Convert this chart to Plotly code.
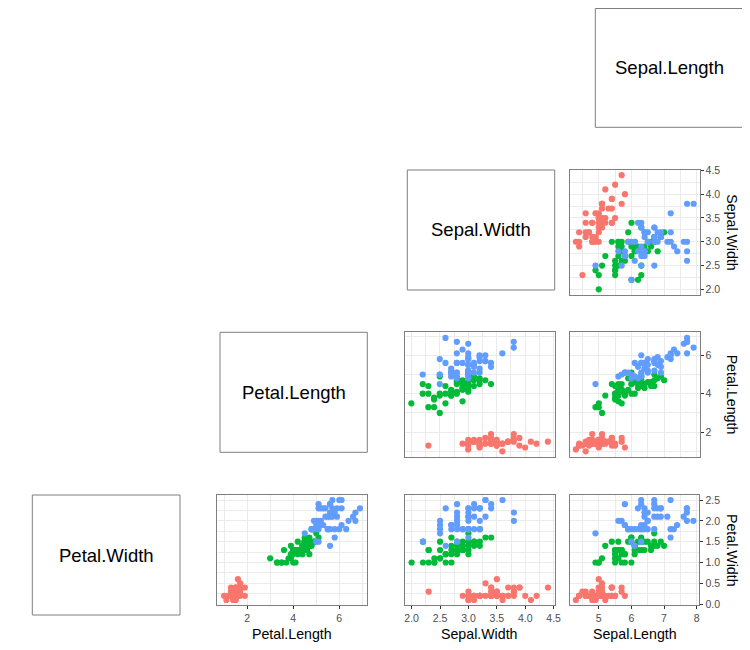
import plotly.graph_objects as go

# ---------------- data (iris) ----------------
sepal_length = [
    5.1,4.9,4.7,4.6,5.0,5.4,4.6,5.0,4.4,4.9,5.4,4.8,4.8,4.3,5.8,5.7,5.4,5.1,5.7,5.1,
    5.4,5.1,4.6,5.1,4.8,5.0,5.0,5.2,5.2,4.7,4.8,5.4,5.2,5.5,4.9,5.0,5.5,4.9,4.4,5.1,
    5.0,4.5,4.4,5.0,5.1,4.8,5.1,4.6,5.3,5.0,
    7.0,6.4,6.9,5.5,6.5,5.7,6.3,4.9,6.6,5.2,5.0,5.9,6.0,6.1,5.6,6.7,5.6,5.8,6.2,5.6,
    5.9,6.1,6.3,6.1,6.4,6.6,6.8,6.7,6.0,5.7,5.5,5.5,5.8,6.0,5.4,6.0,6.7,6.3,5.6,5.5,
    5.5,6.1,5.8,5.0,5.6,5.7,5.7,6.2,5.1,5.7,
    6.3,5.8,7.1,6.3,6.5,7.6,4.9,7.3,6.7,7.2,6.5,6.4,6.8,5.7,5.8,6.4,6.5,7.7,7.7,6.0,
    6.9,5.6,7.7,6.3,6.7,7.2,6.2,6.1,6.4,7.2,7.4,7.9,6.4,6.3,6.1,7.7,6.3,6.4,6.0,6.9,
    6.7,6.9,5.8,6.8,6.7,6.7,6.3,6.5,6.2,5.9]
sepal_width = [
    3.5,3.0,3.2,3.1,3.6,3.9,3.4,3.4,2.9,3.1,3.7,3.4,3.0,3.0,4.0,4.4,3.9,3.5,3.8,3.8,
    3.4,3.7,3.6,3.3,3.4,3.0,3.4,3.5,3.4,3.2,3.1,3.4,4.1,4.2,3.1,3.2,3.5,3.6,3.0,3.4,
    3.5,2.3,3.2,3.5,3.8,3.0,3.8,3.2,3.7,3.3,
    3.2,3.2,3.1,2.3,2.8,2.8,3.3,2.4,2.9,2.7,2.0,3.0,2.2,2.9,2.9,3.1,3.0,2.7,2.2,2.5,
    3.2,2.8,2.5,2.8,2.9,3.0,2.8,3.0,2.9,2.6,2.4,2.4,2.7,2.7,3.0,3.4,3.1,2.3,3.0,2.5,
    2.6,3.0,2.6,2.3,2.7,3.0,2.9,2.9,2.5,2.8,
    3.3,2.7,3.0,2.9,3.0,3.0,2.5,2.9,2.5,3.6,3.2,2.7,3.0,2.5,2.8,3.2,3.0,3.8,2.6,2.2,
    3.2,2.8,2.8,2.7,3.3,3.2,2.8,3.0,2.8,3.0,2.8,3.8,2.8,2.8,2.6,3.0,3.4,3.1,3.0,3.1,
    3.1,3.1,2.7,3.2,3.3,3.0,2.5,3.0,3.4,3.0]
petal_length = [
    1.4,1.4,1.3,1.5,1.4,1.7,1.4,1.5,1.4,1.5,1.5,1.6,1.4,1.1,1.2,1.5,1.3,1.4,1.7,1.5,
    1.7,1.5,1.0,1.7,1.9,1.6,1.6,1.5,1.4,1.6,1.6,1.5,1.5,1.4,1.5,1.2,1.3,1.4,1.3,1.5,
    1.3,1.3,1.3,1.6,1.9,1.4,1.6,1.4,1.5,1.4,
    4.7,4.5,4.9,4.0,4.6,4.5,4.7,3.3,4.6,3.9,3.5,4.2,4.0,4.7,3.6,4.4,4.5,4.1,4.5,3.9,
    4.8,4.0,4.9,4.7,4.3,4.4,4.8,5.0,4.5,3.5,3.8,3.7,3.9,5.1,4.5,4.5,4.7,4.4,4.1,4.0,
    4.4,4.6,4.0,3.3,4.2,4.2,4.2,4.3,3.0,4.1,
    6.0,5.1,5.9,5.6,5.8,6.6,4.5,6.3,5.8,6.1,5.1,5.3,5.5,5.0,5.1,5.3,5.5,6.7,6.9,5.0,
    5.7,4.9,6.7,4.9,5.7,6.0,4.8,4.9,5.6,5.8,6.1,6.4,5.6,5.1,5.6,6.1,5.6,5.5,4.8,5.4,
    5.6,5.1,5.1,5.9,5.7,5.2,5.0,5.2,5.4,5.1]
petal_width = [
    0.2,0.2,0.2,0.2,0.2,0.4,0.3,0.2,0.2,0.1,0.2,0.2,0.1,0.1,0.2,0.4,0.4,0.3,0.3,0.3,
    0.2,0.4,0.2,0.5,0.2,0.2,0.4,0.2,0.2,0.2,0.2,0.4,0.1,0.2,0.2,0.2,0.2,0.1,0.2,0.2,
    0.3,0.3,0.2,0.6,0.4,0.3,0.2,0.2,0.2,0.2,
    1.4,1.5,1.5,1.3,1.5,1.3,1.6,1.0,1.3,1.4,1.0,1.5,1.0,1.4,1.3,1.4,1.5,1.0,1.5,1.1,
    1.8,1.3,1.5,1.2,1.3,1.4,1.4,1.7,1.5,1.0,1.1,1.0,1.2,1.6,1.5,1.6,1.5,1.3,1.3,1.3,
    1.2,1.4,1.2,1.0,1.3,1.2,1.3,1.3,1.1,1.3,
    2.5,1.9,2.1,1.8,2.2,2.1,1.7,1.8,1.8,2.5,2.0,1.9,2.1,2.0,2.4,2.3,1.8,2.2,2.3,1.5,
    2.3,2.0,2.0,1.8,2.1,1.8,1.8,1.8,2.1,1.6,1.9,2.0,2.2,1.5,1.4,2.3,2.4,1.8,1.8,2.1,
    2.4,2.3,1.9,2.3,2.5,2.3,1.9,2.0,2.3,1.8]
species_names = ["setosa", "versicolor", "virginica"]
species_counts = [50, 50, 50]
species_colors = ["#F8766D", "#00BA38", "#619CFF"]

variables = {
    "Sepal.Length": sepal_length,
    "Sepal.Width": sepal_width,
    "Petal.Length": petal_length,
    "Petal.Width": petal_width,
}
ticks = {
    "Sepal.Length": ([5, 6, 7, 8], ["5", "6", "7", "8"], 0.5),
    "Sepal.Width": ([2.0, 2.5, 3.0, 3.5, 4.0, 4.5], ["2.0", "2.5", "3.0", "3.5", "4.0", "4.5"], 0.25),
    "Petal.Length": ([2, 4, 6], ["2", "4", "6"], 1),
    "Petal.Width": ([0.0, 0.5, 1.0, 1.5, 2.0, 2.5], ["0.0", "0.5", "1.0", "1.5", "2.0", "2.5"], 0.25),
}

# The page body has an 8px margin, so the figure is sized to fill the
# remaining window and positions below are given in window pixels.
OFF = 8
W, H = 750 - OFF, 650 - OFF
def px_x(v): return (v - OFF) / W
def px_y(v): return 1 - (v - OFF) / H

def rng(vals):
    lo, hi = min(vals), max(vals)
    s = hi - lo
    return [lo - 0.05 * s, hi + 0.05 * s]

# panels: (xvar, yvar, x0, x1, ytop, ybot, show_x_labels, show_y_labels)
panels = [
    ("Sepal.Length", "Sepal.Width", 570, 699.5, 169.5, 295, False, True),
    ("Sepal.Width", "Petal.Length", 404.5, 554.7, 332.3, 457, False, False),
    ("Sepal.Length", "Petal.Length", 570, 699.5, 332.3, 457, False, True),
    ("Petal.Length", "Petal.Width", 217.3, 366.8, 495, 605, True, False),
    ("Sepal.Width", "Petal.Width", 404.8, 554.8, 495, 605, True, False),
    ("Sepal.Length", "Petal.Width", 570, 699.3, 495, 605, True, True),
]
label_boxes = [
    ("Sepal.Length", 595.3, 742.7, 8.5, 127.3),
    ("Sepal.Width", 407.3, 554.7, 170, 290),
    ("Petal.Length", 220, 367.3, 332.3, 452.3),
    ("Petal.Width", 32.3, 180, 495, 615),
]

FONT = "Liberation Sans, Arial, sans-serif"
GRID = "#EBEBEB"
BORDER = "#7F7F7F"
TICKC = "#4D4D4D"

fig = go.Figure()
layout = dict(
    template="none",
    width=W, height=H, autosize=False,
    margin=dict(l=0, r=0, t=0, b=0, pad=0, autoexpand=False),
    paper_bgcolor="white", plot_bgcolor="white", showlegend=False,
    font=dict(family=FONT),
)
annotations = []
shapes = []

for i, (xv, yv, x0, x1, yt, yb, sx, sy) in enumerate(panels, start=1):
    xs = variables[xv]
    ys = variables[yv]
    start = 0
    for name, n, col in zip(species_names, species_counts, species_colors):
        fig.add_trace(go.Scatter(
            x=xs[start:start + n], y=ys[start:start + n], mode="markers",
            marker=dict(color=col, size=6.2, line=dict(width=0)),
            name=name, xaxis=f"x{i}", yaxis=f"y{i}", hoverinfo="skip"))
        start += n
    xtv, xtt, xminor = ticks[xv]
    ytv, ytt, yminor = ticks[yv]
    layout[f"xaxis{i}"] = dict(
        domain=[px_x(x0), px_x(x1)], anchor=f"y{i}", range=rng(xs),
        tickvals=xtv, ticktext=xtt, showticklabels=sx, automargin=False,
        ticks="outside" if sx else "", ticklen=3, tickwidth=1, tickcolor="#333333",
        tickfont=dict(size=10.5, color=TICKC, family=FONT),
        showgrid=True, gridcolor=GRID, gridwidth=1.3,
        minor=dict(dtick=xminor, tick0=0, showgrid=True, gridcolor=GRID, gridwidth=0.6, ticks=""),
        showline=True, linecolor=BORDER, linewidth=1, mirror=True, zeroline=False,
        fixedrange=True,
    )
    layout[f"yaxis{i}"] = dict(
        domain=[px_y(yb), px_y(yt)], anchor=f"x{i}", range=rng(ys), side="right",
        tickvals=ytv, ticktext=ytt, showticklabels=sy, automargin=False,
        ticks="outside" if sy else "", ticklen=3, tickwidth=1, tickcolor="#333333",
        tickfont=dict(size=10.5, color=TICKC, family=FONT),
        showgrid=True, gridcolor=GRID, gridwidth=1.3,
        minor=dict(dtick=yminor, tick0=0, showgrid=True, gridcolor=GRID, gridwidth=0.6, ticks=""),
        showline=True, linecolor=BORDER, linewidth=1, mirror=True, zeroline=False,
        fixedrange=True,
    )
    if sx:
        annotations.append(dict(
            text=xv, x=px_x((x0 + x1) / 2), y=px_y(634), xref="paper", yref="paper",
            showarrow=False, xanchor="center", yanchor="middle",
            font=dict(size=14.2, color="black", family=FONT)))
    if sy:
        annotations.append(dict(
            text=yv, x=px_x(732), y=px_y((yt + yb) / 2), xref="paper", yref="paper",
            showarrow=False, xanchor="center", yanchor="middle", textangle=90,
            font=dict(size=14.2, color="black", family=FONT)))

for name, x0, x1, yt, yb in label_boxes:
    shapes.append(dict(type="rect", xref="paper", yref="paper",
                       x0=px_x(x0), x1=px_x(x1), y0=px_y(yb), y1=px_y(yt),
                       line=dict(color=BORDER, width=1), fillcolor="rgba(0,0,0,0)"))
    annotations.append(dict(
        text=name, x=px_x((x0 + x1) / 2), y=px_y((yt + yb) / 2),
        xref="paper", yref="paper", showarrow=False,
        xanchor="center", yanchor="middle",
        font=dict(size=18.5, color="black", family=FONT)))

layout["annotations"] = annotations
layout["shapes"] = shapes
fig.update_layout(**layout)
fig.write_html("out.html", config={"displayModeBar": False})
